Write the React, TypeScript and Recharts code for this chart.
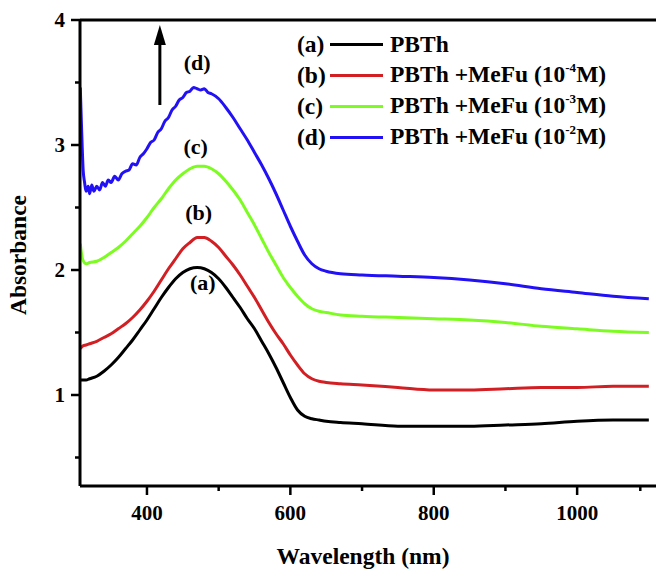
import React from 'react'
import { LineChart, Line, XAxis, YAxis, Legend, ReferenceLine, ReferenceDot, Label } from 'recharts'

const FONT = "'Liberation Serif', 'Times New Roman', serif"

// shared wavelength grid for (a), (b), (c)
const WL = [
  307, 310, 315, 320, 330, 340, 350, 360, 370, 380, 390, 400, 410, 420, 430, 440, 450, 460, 470, 480,
  490, 500, 510, 520, 530, 540, 550, 560, 570, 580, 590, 600, 610, 620, 630, 640, 650, 670, 700, 750,
  800, 850, 900, 950, 1000, 1050, 1100,
]

const ABS_A = [
  1.12, 1.12, 1.12, 1.13, 1.15, 1.19, 1.24, 1.30, 1.37, 1.44, 1.52, 1.60, 1.69, 1.78, 1.86, 1.93, 1.98, 2.01, 2.02, 2.01,
  1.98, 1.93, 1.86, 1.78, 1.70, 1.61, 1.53, 1.43, 1.33, 1.22, 1.10, 0.98, 0.88, 0.83, 0.81, 0.80, 0.79, 0.78, 0.77, 0.75,
  0.75, 0.75, 0.76, 0.77, 0.79, 0.80, 0.80,
]

const ABS_B = [
  1.37, 1.39, 1.40, 1.41, 1.43, 1.46, 1.49, 1.53, 1.57, 1.62, 1.68, 1.75, 1.83, 1.92, 2.01, 2.09, 2.17, 2.22, 2.26, 2.26,
  2.23, 2.18, 2.11, 2.04, 1.96, 1.87, 1.78, 1.68, 1.58, 1.49, 1.41, 1.32, 1.24, 1.17, 1.13, 1.11, 1.10, 1.09, 1.08, 1.06,
  1.04, 1.04, 1.05, 1.06, 1.06, 1.07, 1.07,
]

const ABS_C = [
  2.21, 2.09, 2.05, 2.06, 2.07, 2.10, 2.14, 2.18, 2.23, 2.29, 2.35, 2.42, 2.50, 2.57, 2.65, 2.72, 2.77, 2.81, 2.83, 2.83,
  2.81, 2.77, 2.71, 2.64, 2.56, 2.46, 2.36, 2.25, 2.14, 2.04, 1.94, 1.86, 1.79, 1.73, 1.69, 1.67, 1.66, 1.64, 1.63, 1.62,
  1.61, 1.60, 1.58, 1.55, 1.53, 1.51, 1.50,
]

// (d) is noisy in the UV part, so it gets its own denser grid
const WL_D = [
  307, 309, 311, 313, 315, 318, 320, 323, 326, 330, 334, 338, 342, 346, 350, 355, 360, 365, 370, 375,
  380, 385, 390, 395, 400, 405, 410, 415, 420, 425, 430, 435, 440, 445, 450, 455, 460, 465, 470, 475,
  480, 485, 490, 500, 510, 520, 530, 540, 550, 560, 570, 580, 590, 600, 610, 620, 630, 640, 650, 670,
  700, 750, 800, 850, 900, 950, 1000, 1050, 1100,
]

const ABS_D = [
  3.46, 3.10, 2.80, 2.70, 2.63, 2.67, 2.61, 2.68, 2.63, 2.67, 2.64, 2.70, 2.67, 2.72, 2.70, 2.75, 2.72, 2.77, 2.79, 2.80,
  2.85, 2.84, 2.90, 2.93, 2.97, 3.02, 3.04, 3.10, 3.13, 3.19, 3.22, 3.28, 3.31, 3.36, 3.38, 3.42, 3.43, 3.46, 3.45, 3.44,
  3.45, 3.42, 3.41, 3.37, 3.30, 3.22, 3.13, 3.04, 2.94, 2.84, 2.73, 2.61, 2.48, 2.35, 2.23, 2.12, 2.05, 2.01, 1.99, 1.97,
  1.96, 1.95, 1.94, 1.92, 1.89, 1.85, 1.82, 1.79, 1.77,
]

const X_TICKS = [400, 500, 600, 700, 800, 900, 1000, 1100]
const Y_TICKS = [0.5, 1, 1.5, 2, 2.5, 3, 3.5, 4]

const SERIES = [
  { key: 'a', tag: '(a)', name: 'PBTh', exp: '', color: '#000000', wl: WL, abs: ABS_A },
  { key: 'b', tag: '(b)', name: 'PBTh +MeFu (10', exp: '-4', color: '#d21f24', wl: WL, abs: ABS_B },
  { key: 'c', tag: '(c)', name: 'PBTh +MeFu (10', exp: '-3', color: '#7dfc22', wl: WL, abs: ABS_C },
  { key: 'd', tag: '(d)', name: 'PBTh +MeFu (10', exp: '-2', color: '#2311f5', wl: WL_D, abs: ABS_D },
]

// curve tags placed next to the peaks
const TAGS = [
  { text: '(d)', wl: 470, abs: 3.66 },
  { text: '(c)', wl: 468, abs: 2.99 },
  { text: '(b)', wl: 472, abs: 2.46 },
  { text: '(a)', wl: 478, abs: 1.90 },
]

const toPoints = (wl: number[], abs: number[]) => wl.map((w, i) => ({ wl: w, abs: abs[i] }))

const tickStyle = { fontFamily: FONT, fontWeight: 700, fontSize: 21, fill: '#000' }
const tagStyle = { ...tickStyle, fontSize: 22 }
const titleStyle = { ...tickStyle, fontSize: 23.5 }

function XTick(props: any) {
  const { x, y, payload } = props
  const major = payload.value % 200 === 0
  return (
    <g>
      <line x1={x} x2={x} y1={y} y2={y + (major ? 9 : 5)} stroke="#000" strokeWidth={2.5} />
      {major && (
        <text x={x} y={y + 34} textAnchor="middle" style={tickStyle}>{payload.value}</text>
      )}
    </g>
  )
}

function YTick(props: any) {
  const { x, y, payload } = props
  const major = Number.isInteger(payload.value)
  return (
    <g>
      <line x1={x} x2={x - (major ? 9 : 5)} y1={y} y2={y} stroke="#000" strokeWidth={2.5} />
      {major && (
        <text x={x - 15} y={y} dy="0.35em" textAnchor="end" style={tickStyle}>{payload.value}</text>
      )}
    </g>
  )
}

function Arrow(props: any) {
  const { x1, y1, x2, y2 } = props
  const top = Math.min(y1, y2)
  const bottom = Math.max(y1, y2)
  return (
    <g>
      <line x1={x1} x2={x2} y1={bottom} y2={top + 14} stroke="#000" strokeWidth={3} />
      <polygon points={`${x1 - 6},${top + 20} ${x1 + 6},${top + 20} ${x1},${top}`} fill="#000" />
    </g>
  )
}

function LegendBox() {
  return (
    <div style={{ fontFamily: FONT, fontWeight: 700, fontSize: 23.5, color: '#000' }}>
      {SERIES.map(s => (
        <div key={s.key} style={{ display: 'flex', alignItems: 'center', height: 31, lineHeight: '31px', whiteSpace: 'nowrap' }}>
          <span style={{ width: 33 }}>{s.tag}</span>
          <span style={{ width: 53, height: 3, background: s.color, marginRight: 7 }} />
          <span>
            {s.name}
            {s.exp && (
              <>
                <span style={{ fontSize: 13, position: 'relative', top: -10 }}>{s.exp}</span>M)
              </>
            )}
          </span>
        </div>
      ))}
    </div>
  )
}

export default function App() {
  return (
    <div style={{ position: 'absolute', left: 0, top: 0, width: 656, height: 570, background: '#fff' }}>
      <LineChart width={656} height={570} margin={{ top: 20, right: 0, left: 0, bottom: 24 }}>
        <XAxis
          dataKey="wl"
          type="number"
          domain={[306.6, 1110]}
          allowDataOverflow
          ticks={X_TICKS}
          tick={<XTick />}
          tickSize={0}
          tickMargin={0}
          tickLine={false}
          height={60}
          axisLine={{ stroke: '#000', strokeWidth: 3 }}
        >
          <Label
            content={() => (
              <text x={363} y={564} textAnchor="middle" style={titleStyle}>Wavelength (nm)</text>
            )}
          />
        </XAxis>
        <YAxis
          type="number"
          domain={[0.272, 4]}
          allowDataOverflow
          ticks={Y_TICKS}
          tick={<YTick />}
          tickSize={0}
          tickMargin={0}
          tickLine={false}
          width={80}
          axisLine={{ stroke: '#000', strokeWidth: 3 }}
        >
          <Label
            content={() => (
              <text x={26} y={255} textAnchor="middle" transform="rotate(-90 26 255)" style={titleStyle}>
                Absorbance
              </text>
            )}
          />
        </YAxis>
        <ReferenceLine y={4} stroke="#000" strokeWidth={3} />

        {SERIES.map(s => (
          <Line
            key={s.key}
            data={toPoints(s.wl, s.abs)}
            dataKey="abs"
            type="monotone"
            stroke={s.color}
            strokeWidth={3}
            dot={false}
            isAnimationActive={false}
          />
        ))}

        <ReferenceLine
          segment={[{ x: 418, y: 3.32 }, { x: 418, y: 3.96 }]}
          shape={<Arrow />}
        />
        {TAGS.map(t => (
          <ReferenceDot
            key={t.text}
            x={t.wl}
            y={t.abs}
            r={0}
            stroke="none"
            fill="none"
            label={{ value: t.text, position: 'center', style: tagStyle }}
          />
        ))}

        <Legend
          layout="vertical"
          align="center"
          verticalAlign="middle"
          content={<LegendBox />}
          wrapperStyle={{ left: 297, top: 29, width: 'auto', height: 'auto' }}
        />
      </LineChart>
    </div>
  )
}
